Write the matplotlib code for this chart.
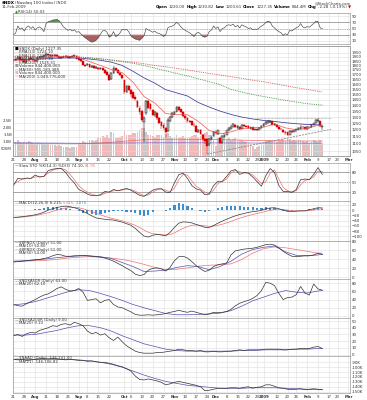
import numpy as np
import pandas as pd
import matplotlib
matplotlib.use("Agg")
import matplotlib.pyplot as plt
from matplotlib.ticker import NullLocator

# trading sessions Jul 21 2008 .. Mar 2 2009
holidays = ["2008-09-01", "2008-11-27", "2008-12-25", "2009-01-01", "2009-01-19", "2009-02-16"]
days = pd.bdate_range("2008-07-21", "2009-03-02", freq="C", holidays=holidays)

tick_dates = ["2008-07-21", "2008-07-28", "2008-08-04", "2008-08-11", "2008-08-18", "2008-08-25",
              "2008-09-02", "2008-09-08", "2008-09-15", "2008-09-22", "2008-10-01", "2008-10-06",
              "2008-10-13", "2008-10-20", "2008-10-27", "2008-11-03", "2008-11-10", "2008-11-17",
              "2008-11-24", "2008-12-01", "2008-12-08", "2008-12-15", "2008-12-22", "2008-12-29",
              "2009-01-02", "2009-01-12", "2009-01-20", "2009-01-26", "2009-02-02", "2009-02-09",
              "2009-02-17", "2009-02-23", "2009-03-02"]
tick_labels = ["21", "28", "Aug", "11", "18", "25", "Sep", "8", "15", "22", "Oct", "6", "13", "20",
               "27", "Nov", "10", "17", "24", "Dec", "8", "15", "22", "29", "2009", "12", "20", "26",
               "Feb", "9", "17", "23", "Mar"]
month_names = ["Aug", "Sep", "Oct", "Nov", "Dec", "2009", "Feb", "Mar"]

# daily OHLC, Jul 21 2008 .. Feb 11 2009
opens = [1850, 1865, 1880, 1895, 1860, 1870, 1835, 1860, 1885, 1870,
         1860, 1850, 1890, 1900, 1905, 1915, 1935, 1915, 1925, 1915,
         1925, 1905, 1885, 1895, 1905, 1915, 1890, 1900, 1905, 1915,
         1890, 1870, 1850, 1805, 1800, 1815, 1785, 1795, 1770, 1775,
         1760, 1770, 1745, 1725, 1700, 1650, 1720, 1770, 1745, 1715,
         1690, 1640, 1525, 1580, 1540, 1520, 1480, 1440, 1380, 1350,
         1260, 1330, 1440, 1410, 1360, 1320, 1335, 1290, 1260, 1240,
         1215, 1190, 1270, 1300, 1325, 1345, 1385, 1365, 1345, 1310,
         1295, 1270, 1265, 1240, 1230, 1185, 1200, 1165, 1130, 1135,
         1095, 1135, 1155, 1185, 1170, 1140, 1110, 1150, 1165, 1195,
         1210, 1225, 1240, 1215, 1225, 1210, 1240, 1230, 1230, 1210,
         1220, 1200, 1205, 1200, 1215, 1230, 1245, 1255, 1260, 1265,
         1240, 1240, 1225, 1210, 1200, 1185, 1180, 1165, 1190, 1185,
         1195, 1200, 1210, 1225, 1220, 1210, 1225, 1220, 1240, 1255,
         1265, 1265, 1220]
highs = [1875, 1890, 1910, 1900, 1880, 1875, 1865, 1890, 1895, 1880,
         1865, 1895, 1905, 1915, 1925, 1945, 1940, 1935, 1930, 1930,
         1930, 1910, 1900, 1915, 1925, 1915, 1905, 1915, 1925, 1920,
         1905, 1875, 1855, 1815, 1825, 1820, 1805, 1800, 1790, 1785,
         1780, 1775, 1755, 1735, 1705, 1730, 1790, 1775, 1755, 1725,
         1700, 1645, 1590, 1590, 1550, 1525, 1495, 1450, 1390, 1360,
         1310, 1450, 1450, 1420, 1370, 1350, 1345, 1300, 1270, 1250,
         1225, 1290, 1310, 1340, 1350, 1395, 1390, 1370, 1350, 1320,
         1300, 1280, 1270, 1255, 1235, 1205, 1205, 1170, 1140, 1140,
         1140, 1160, 1190, 1195, 1200, 1145, 1160, 1175, 1200, 1225,
         1235, 1255, 1245, 1240, 1230, 1245, 1245, 1240, 1235, 1225,
         1225, 1210, 1210, 1220, 1235, 1250, 1265, 1275, 1280, 1270,
         1250, 1245, 1230, 1215, 1205, 1190, 1185, 1195, 1200, 1200,
         1210, 1220, 1235, 1230, 1225, 1230, 1230, 1245, 1255, 1285,
         1295, 1270, 1230.82]
lows = [1840, 1855, 1875, 1855, 1850, 1830, 1830, 1855, 1865, 1855,
        1840, 1845, 1885, 1895, 1900, 1910, 1915, 1910, 1905, 1910,
        1900, 1880, 1875, 1890, 1900, 1885, 1885, 1895, 1900, 1875,
        1855, 1840, 1800, 1780, 1790, 1775, 1775, 1765, 1760, 1750,
        1745, 1735, 1710, 1690, 1630, 1640, 1710, 1740, 1705, 1680,
        1650, 1505, 1515, 1530, 1480, 1455, 1440, 1375, 1320, 1260,
        1110, 1320, 1370, 1350, 1310, 1300, 1280, 1245, 1210, 1195,
        1140, 1180, 1260, 1290, 1315, 1340, 1350, 1335, 1300, 1280,
        1255, 1250, 1230, 1225, 1180, 1175, 1160, 1120, 1100, 1030,
        1085, 1125, 1145, 1165, 1165, 1100, 1100, 1140, 1160, 1190,
        1205, 1220, 1215, 1210, 1200, 1205, 1225, 1220, 1205, 1205,
        1195, 1195, 1190, 1195, 1210, 1225, 1240, 1250, 1255, 1235,
        1230, 1220, 1200, 1195, 1175, 1165, 1155, 1160, 1175, 1180,
        1185, 1195, 1205, 1210, 1200, 1200, 1210, 1215, 1235, 1250,
        1260, 1225, 1200.61]
closes = [1865, 1880, 1900, 1860, 1870, 1835, 1860, 1880, 1870, 1865,
          1850, 1890, 1900, 1910, 1915, 1935, 1920, 1925, 1915, 1925,
          1905, 1885, 1895, 1910, 1915, 1890, 1900, 1910, 1920, 1880,
          1865, 1850, 1805, 1795, 1815, 1785, 1795, 1775, 1780, 1760,
          1770, 1745, 1720, 1700, 1640, 1720, 1775, 1750, 1715, 1690,
          1660, 1520, 1580, 1545, 1500, 1470, 1460, 1385, 1345, 1280,
          1295, 1440, 1380, 1370, 1320, 1340, 1290, 1255, 1230, 1215,
          1180, 1280, 1300, 1330, 1340, 1385, 1360, 1345, 1310, 1290,
          1265, 1260, 1240, 1235, 1185, 1195, 1170, 1130, 1120, 1085,
          1135, 1150, 1185, 1175, 1195, 1105, 1155, 1165, 1195, 1215,
          1225, 1245, 1220, 1230, 1205, 1240, 1230, 1225, 1215, 1220,
          1200, 1205, 1200, 1215, 1230, 1245, 1260, 1265, 1270, 1240,
          1245, 1225, 1210, 1205, 1180, 1175, 1160, 1190, 1185, 1195,
          1205, 1215, 1225, 1220, 1210, 1225, 1220, 1240, 1250, 1275,
          1280, 1230, 1227.35]
# volume, millions of shares
volume_m = [1050, 980, 1100, 1000, 950, 1020, 990, 1050, 980, 900,
            850, 950, 900, 920, 870, 880, 820, 800, 760, 780,
            720, 800, 700, 650, 600, 620, 580, 600, 650, 640,
            900, 950, 1050, 1000, 1000, 1100, 1150, 1050, 1100, 1300,
            1250, 1400, 1350, 1500, 1250, 1700, 1600, 1250, 1300, 1350,
            1400, 1750, 1500, 1450, 1500, 1650, 1600, 1700, 1800, 1950,
            2000, 1700, 1500, 1450, 1400, 1350, 1500, 1450, 1500, 1350,
            1550, 1600, 1400, 1300, 1250, 1450, 1300, 1350, 1400, 1250,
            1300, 1350, 1400, 1450, 1500, 1350, 1400, 1550, 1650, 1700,
            1500, 1300, 1100, 700, 1250, 1200, 1300, 1250, 1200, 1300,
            1150, 1200, 1250, 1100, 1150, 1100, 1050, 1000, 950, 850,
            700, 500, 650, 700, 750, 800, 1050, 1100, 1150, 1050,
            1100, 1000, 1150, 1100, 1200, 1050, 1250, 1200, 1050, 1100,
            1050, 1100, 1150, 1050, 1000, 1050, 950, 1000, 1100, 1050,
            1000, 1150, 844]
rsi = [30, 35, 58, 48, 52, 42, 54, 58, 50, 56,
       45, 52, 55, 50, 40, 66, 72, 74, 77, 78,
       79, 75, 66, 55, 50, 44, 47, 42, 46, 38,
       40, 33, 26, 20, 15, 10, 6, 8, 12, 20,
       32, 42, 44, 38, 22, 26, 40, 24, 28, 36,
       48, 45, 47, 40, 26, 20, 16, 14, 12, 18,
       26, 50, 45, 42, 38, 41, 36, 34, 30, 24,
       30, 52, 56, 58, 62, 70, 64, 55, 48, 44,
       40, 36, 30, 24, 34, 38, 32, 24, 22, 25,
       40, 45, 58, 50, 55, 40, 50, 52, 60, 62,
       60, 64, 55, 60, 52, 62, 58, 55, 50, 52,
       46, 48, 47, 52, 58, 62, 70, 73, 71, 58,
       52, 45, 40, 36, 28, 33, 30, 44, 42, 48,
       52, 56, 66, 55, 52, 56, 54, 60, 66, 73,
       72, 52, 50]

# every other session
sto_k = [40, 62, 60, 63, 62, 72, 66, 68, 86, 90, 92, 92, 80, 62, 48, 28, 22, 14, 9, 9,
         12, 22, 20, 28, 24, 28, 31, 26, 18, 10, 7, 16, 26, 30, 30, 20, 19, 48, 73, 78,
         62, 40, 30, 26, 12, 14, 40, 53, 53, 68, 85, 89, 74, 80, 78, 66, 52, 38, 70, 92,
         80, 40, 22, 22, 19, 28, 58, 60, 58, 74, 95, 74]
sto_d = [45, 52, 60, 61, 62, 66, 68, 68, 78, 87, 91, 92, 88, 74, 58, 40, 28, 20, 13, 10,
         10, 16, 20, 24, 25, 26, 29, 28, 23, 15, 10, 11, 20, 27, 30, 26, 21, 32, 58, 74,
         72, 54, 38, 30, 20, 14, 26, 46, 52, 60, 78, 86, 82, 78, 79, 72, 60, 46, 52, 78,
         88, 60, 34, 24, 21, 24, 42, 56, 59, 66, 84, 82]
macd = [-28, -27, -25, -23, -21, -18, -14, -8, 0, 5, 10, 13, 15, 13, 9, 4, -5, -13, -22, -30,
        -33, -35, -37, -38, -42, -46, -52, -58, -70, -85, -99, -103, -96, -93, -95, -98, -85, -66, -50, -45,
        -46, -49, -55, -60, -66, -66, -59, -50, -42, -35, -28, -22, -17, -13, -9, -6, -4, -1, 5, 8,
        9, 5, 0, -5, -6, -4, -3, -3, 1, 5, 9, 8]
macd_sig = [-28, -28, -27, -25, -23, -21, -18, -14, -10, -5, 0, 4, 8, 10, 10, 9, 5, 0, -6, -12,
            -18, -24, -29, -33, -37, -41, -46, -52, -58, -67, -76, -85, -90, -92, -94, -95, -93, -87, -78, -70,
            -63, -58, -57, -58, -60, -62, -61, -58, -54, -49, -43, -37, -31, -26, -21, -17, -13, -9, -5, -1,
            2, 3, 2, 0, -2, -3, -3, -3, -2, 0, 3, 5]
macd_hist = [0, 1, 2, 2, 2, 3, 4, 6, 10, 10, 10, 9, 7, 3, -1, -5, -10, -13, -16, -18,
             -15, -11, -8, -5, -5, -5, -6, -6, -12, -18, -23, -18, -6, -1, -1, -3, 8, 21, 28, 25,
             17, 9, 2, -2, -6, -4, 2, 8, 12, 14, 15, 15, 14, 13, 12, 11, 9, 8, 10, 9,
             7, 2, -2, -5, -4, -1, 0, 0, 3, 5, 6, 3]
bpndx = [34, 35, 36, 37, 38, 39, 40, 42, 44, 48, 51, 50, 47, 47, 48, 48, 49, 48, 47, 46,
         45, 43, 40, 36, 31, 26, 20, 15, 7, 4, 6, 16, 20, 21, 19, 14, 22, 37, 46, 47,
         43, 35, 26, 19, 13, 16, 24, 28, 30, 32, 50, 59, 61, 63, 64, 65, 67, 70, 73, 74,
         72, 66, 58, 52, 47, 46, 47, 48, 48, 50, 54, 51]
a50r = [28, 25, 24, 30, 35, 40, 46, 51, 54, 60, 67, 71, 65, 61, 62, 67, 58, 38, 40, 42,
        32, 38, 40, 28, 22, 20, 15, 10, 4, 2, 2, 3, 2, 3, 4, 6, 9, 11, 14, 11,
        9, 12, 9, 6, 3, 5, 9, 8, 9, 11, 16, 25, 31, 35, 38, 43, 50, 62, 82, 80,
        74, 55, 40, 45, 46, 52, 72, 56, 51, 78, 66, 63]
a200r = [28, 30, 27, 31, 33, 32, 36, 38, 40, 43, 42, 45, 46, 44, 48, 46, 43, 35, 31, 33,
         29, 31, 25, 21, 26, 19, 13, 9, 5, 3, 2, 2, 2, 3, 3, 4, 5, 6, 8, 7,
         6, 6, 5, 6, 4, 4, 5, 4, 4, 5, 5, 6, 7, 6, 7, 7, 7, 7, 8, 8,
         8, 8, 7, 7, 8, 8, 9, 9, 9, 11, 12, 9]
naad_k = [-84, -85, -84, -86, -85, -84, -83, -82, -83, -82, -83, -84, -85, -84, -85, -86, -86, -88, -87, -89,
          -90, -90, -92, -94, -97, -99, -103, -108, -118, -125, -126, -124, -126, -128, -131, -136, -134, -131, -129, -131,
          -133, -135, -137, -140, -148, -147, -145, -143, -143, -143, -142, -142, -143, -141, -140, -143, -141, -140, -136, -136,
          -139, -142, -143, -145, -146, -145, -144, -146, -145, -144, -145, -146]

# weekly samples (every 5th session plus the last one)
ema13 = [1860, 1862, 1865, 1890, 1905, 1905, 1890, 1845, 1800, 1755, 1720, 1620, 1480, 1420, 1330,
         1320, 1320, 1265, 1195, 1170, 1185, 1210, 1215, 1220, 1245, 1215, 1200, 1210, 1235, 1230]
ema34 = [1870, 1872, 1874, 1880, 1885, 1888, 1885, 1875, 1860, 1838, 1800, 1735, 1665, 1610, 1545,
         1515, 1485, 1425, 1385, 1350, 1322, 1300, 1285, 1273, 1265, 1255, 1247, 1241, 1238, 1236]
ema89 = [1895, 1895, 1894, 1894, 1893, 1893, 1891, 1887, 1876, 1860, 1843, 1825, 1800, 1770, 1740,
         1712, 1685, 1655, 1625, 1595, 1548, 1522, 1500, 1480, 1462, 1445, 1430, 1415, 1405, 1402]
ema200 = [1905, 1905, 1905, 1904, 1904, 1903, 1900, 1890, 1878, 1865, 1850, 1838, 1820, 1800, 1785,
          1768, 1750, 1730, 1712, 1695, 1677, 1660, 1640, 1625, 1605, 1585, 1565, 1548, 1530, 1525]
vol_ma50 = [930, 925, 920, 915, 910, 905, 900, 900, 905, 910, 915, 920, 925, 930, 930,
            930, 930, 928, 925, 922, 920, 918, 915, 912, 910, 910, 908, 905, 905, 905]
vol_ma200 = [900, 895, 890, 880, 870, 860, 860, 880, 920, 970, 1030, 1090, 1140, 1170, 1180,
             1180, 1175, 1170, 1160, 1150, 1140, 1120, 1100, 1080, 1070, 1060, 1060, 1060, 1055, 1050]
bpndx_ma10 = [36, 37, 39, 41, 44, 46, 48, 48, 46, 42, 33, 24, 13, 14, 16,
              22, 26, 24, 17, 24, 36, 52, 62, 67, 70, 57, 49, 48, 50, 51]
bpndx_ma50 = [35, 36, 37, 38, 40, 43, 45, 46, 45, 43, 40, 35, 29, 22, 17,
              18, 21, 25, 27, 28, 30, 40, 54, 64, 68, 66, 62, 58, 54, 54]
a50r_ma = [27, 30, 35, 43, 51, 59, 64, 62, 55, 47, 38, 28, 20, 13, 6,
           3, 3, 4, 5, 7, 13, 24, 37, 46, 55, 62, 58, 56, 61, 62]
a200r_ma = [29, 29, 30, 33, 36, 40, 43, 43, 40, 35, 28, 22, 16, 12, 8,
            6, 5, 5, 5, 5, 5, 6, 6, 7, 7, 7, 8, 8, 9, 9]
naad_ma = [-84, -84, -84, -84, -84, -84, -85, -87, -90, -94, -100, -108, -116, -123, -129,
           -133, -137, -139, -141, -143, -143, -143, -142, -142, -142, -143, -144, -145, -146, -146]

# trend lines drawn on the price panel
support_dates = ["2008-11-24", "2009-02-18"]
support_prices = [1030, 1204]
resist_dates = ["2008-12-26", "2009-02-18"]
resist_prices = [1295, 1295]

# ---------------------------------------------------------------
W, H = 367, 400
L, R = 13, 350
X0, X1 = -0.2, 154.7

n = len(closes)
xd = np.arange(n)
x2 = np.arange(0, n, 2)
xw = np.array(list(range(0, n - 2, 5)) + [n - 1])
tick_x = [days.get_loc(pd.Timestamp(d)) for d in tick_dates]

o = np.array(opens, float)
c = np.array(closes, float)
hi = np.array(highs, float)
lo = np.array(lows, float)
up = c >= o

fig = plt.figure(figsize=(W / 100, H / 100), dpi=100)
fig.patch.set_facecolor("white")
renderer = fig.canvas.get_renderer()
GRID = "#dedede"
TXT = "#333333"
FS = 2.8


def put(x, y, pieces, size=FS, gap=0.8, align="left"):
    # draw coloured text pieces one after the other, pixel coords
    texts, widths = [], []
    for s, col, wt in pieces:
        t = fig.text(0, 1 - y / H, s, color=col, fontsize=size, fontweight=wt,
                     ha="left", va="center")
        texts.append(t)
        widths.append(t.get_window_extent(renderer).width)
    if align == "right":
        x -= sum(widths) + gap * (len(widths) - 1)
    for t, w in zip(texts, widths):
        t.set_x(x / W)
        x += w + gap
    return x


def panel(top, bottom):
    ax = fig.add_axes([L / W, 1 - bottom / H, (R - L) / W, (bottom - top) / H])
    ax.set_xlim(X0, X1)
    ax.set_xticks(tick_x)
    ax.tick_params(axis="x", length=0, labelbottom=False)
    ax.tick_params(axis="y", length=0, pad=1.2, labelsize=FS, labelcolor=TXT,
                   left=False, labelleft=False, right=False, labelright=True)
    ax.grid(True, color=GRID, lw=0.4)
    ax.set_axisbelow(True)
    for s in ax.spines.values():
        s.set_color("#9a9a9a")
        s.set_linewidth(0.5)
    return ax


def date_labels(ax):
    ax.tick_params(axis="x", labelbottom=True, labelsize=FS, labelcolor=TXT, pad=1.6)
    ax.set_xticklabels(tick_labels)
    for t in ax.get_xticklabels():
        if t.get_text() in month_names:
            t.set_fontweight("bold")


# ---- header ----
put(1.5, 3.2, [("$NDX", "black", "bold"), ("(Nasdaq 100 Index) INDX", TXT, "normal")], size=3.0)
put(1.5, 7.4, [("11-Feb-2009", TXT, "normal")], size=2.8)
put(351, 3.0, [("@StockCharts.com", TXT, "normal")], size=2.7, align="right")
put(351, 7.4, [("Open", "black", "bold"), ("1220.00", TXT, "normal"),
               ("High", "black", "bold"), ("1230.82", TXT, "normal"),
               ("Low", "black", "bold"), ("1200.61", TXT, "normal"),
               ("Close", "black", "bold"), ("1227.35", TXT, "normal"),
               ("Volume", "black", "bold"), ("844.4M", TXT, "normal"),
               ("Chg", "black", "bold"), ("-2.28 (-0.19%)", TXT, "normal"),
               ("\u25bc", "#cc0000", "normal")], size=2.9, gap=1.2, align="right")

# ---- RSI ----
ax = panel(13, 44)
ax.set_ylim(0, 100)
ax.set_yticks([10, 30, 50, 70, 90])
r = np.array(rsi, float)
ax.axhline(70, color="#8a8a8a", lw=0.5)
ax.axhline(30, color="#8a8a8a", lw=0.5)
ax.axhline(50, color="#8a8a8a", lw=0.4, ls=(0, (2, 2)))
ax.fill_between(xd, r, 70, where=r >= 70, interpolate=True, color="#4f9a4f", lw=0)
ax.fill_between(xd, r, 30, where=r <= 30, interpolate=True, color="#a86060", lw=0)
ax.plot(xd, r, color="#444444", lw=0.45)
put(15, 12.3, [("\u25b2", "#2a8a2a", "normal"), ("RSI(14) 50.03", TXT, "normal")], gap=0.3)

# ---- price + volume ----
ax_v = panel(46, 156)
ax_v.set_ylim(0, 7750)
ax_v.grid(axis="y", visible=False)
ax_v.tick_params(axis="y", left=False, labelleft=True, right=False, labelright=False, pad=0.8)
ax_v.set_yticks([500, 1000, 1500, 2000, 2500])
ax_v.set_yticklabels(["500M", "1.0B", "1.5B", "2.0B", "2.5B"])
ax_v.bar(xd[up], np.array(volume_m)[up], width=0.8, color="#c9c9c9", lw=0)
ax_v.bar(xd[~up], np.array(volume_m)[~up], width=0.8, color="#f2b9b9", lw=0)
ax_v.plot(xw, vol_ma200, color="#ee6666", lw=0.5)
ax_v.plot(xw, vol_ma50, color="#7a62c8", lw=0.5)

ax_p = panel(46, 156)
ax_p.patch.set_visible(False)
ax_p.set_yscale("log")
ax_p.set_ylim(1017.5, 2035)
ax_p.grid(axis="x", visible=False)
pt = list(range(1050, 2000, 50))
ax_p.set_yticks(pt)
ax_p.set_yticklabels([str(v) for v in pt])
ax_p.yaxis.set_minor_locator(NullLocator())
ax_p.plot(xw, ema200, color="#d04040", lw=0.6, ls=(0, (1, 1.2)))
ax_p.plot(xw, ema89, color="#2e8b2e", lw=0.6, ls=(0, (1, 1.2)))
ax_p.plot(xw, ema34, color="#3a3a9a", lw=0.55)
ax_p.plot(xw, ema13, color="#f06060", lw=0.55)
ax_p.vlines(xd[up], lo[up], hi[up], color="black", lw=0.35)
ax_p.vlines(xd[~up], lo[~up], hi[~up], color="#dd0000", lw=0.35)
ax_p.bar(xd[up], (c - o)[up], bottom=o[up], width=0.8, facecolor="white", edgecolor="black", lw=0.3)
ax_p.bar(xd[~up], (o - c)[~up], bottom=c[~up], width=0.8, facecolor="#dd0000", edgecolor="#dd0000", lw=0.3)
sx = [days.get_loc(pd.Timestamp(d)) for d in support_dates]
rx = [days.get_loc(pd.Timestamp(d)) for d in resist_dates]
ax_p.plot(sx, support_prices, color="#777777", lw=0.5, ls=(0, (3, 1.5)))
ax_p.plot(rx, resist_prices, color="#888888", lw=0.5, ls=(0, (1, 1)))
date_labels(ax_p)

leg = [("\u25a0", "black", "$NDX (Daily) 1227.35"),
       ("\u2014", "#f06060", "EMA(13) 1224.10"),
       ("\u2014", "#3a3a9a", "EMA(34) 1236.52"),
       ("\u2014", "#2e8b2e", "EMA(89) 1402.18"),
       ("\u2014", "#d04040", "EMA(200) 1525.31"),
       ("\u25a0", "#999999", "Volume 844,400,000"),
       ("\u2014", "#7a62c8", "MA(50) 905,183,488"),
       ("\u25a0", "#f2b9b9", "Volume 844,400,000"),
       ("\u2014", "#ee6666", "MA(200) 1,049,776,000")]
for i, (sym, col, s) in enumerate(leg):
    put(15, 48.6 + i * 3.5, [(sym, col, "normal"), (s, TXT, "normal")], gap=0.4)

# ---- Slow stochastics ----
ax = panel(163, 201)
ax.set_ylim(-7.2, 109)
ax.set_yticks([20, 50, 80])
ax.axhline(80, color="#8a8a8a", lw=0.5)
ax.axhline(20, color="#8a8a8a", lw=0.5)
ax.axhline(50, color="#8a8a8a", lw=0.4, ls=(0, (2, 2)))
ax.plot(x2, sto_d, color="#f07070", lw=0.5)
ax.plot(x2, sto_k, color="#333333", lw=0.5)
put(15, 165.5, [("\u2014", "#333333", "normal"), ("Slow STO %K(14,3) %D(3) 74.10,", TXT, "normal"),
                ("81.95", "#f07070", "normal")], gap=0.5)

# ---- MACD ----
ax = panel(201, 241)
ax.set_ylim(-118, 34.6)
ax.set_yticks([20, 0, -20, -40, -60, -80, -100])
ax.bar(x2, macd_hist, width=1.0, color="#3b8ed0", lw=0)
ax.plot(x2, macd_sig, color="#f07070", lw=0.5)
ax.plot(x2, macd, color="#333333", lw=0.5)
put(15, 203.5, [("\u2014", "#333333", "normal"), ("MACD(12,26,9) 8.215,", TXT, "normal"),
                ("5.345,", "#f07070", "normal"), ("2.870", "#3b8ed0", "normal")], gap=0.5)

# ---- Bullish percent ----
ax = panel(241, 279)
ax.set_ylim(-3.8, 81.1)
ax.set_yticks([0, 20, 40, 60, 80])
ax.plot(xw, bpndx_ma50, color="#f07070", lw=0.5)
ax.plot(xw, bpndx_ma10, color="#5050b0", lw=0.5)
ax.plot(x2, bpndx, color="#333333", lw=0.5)
for i, (col, s) in enumerate([("#333333", "$BPNDX (Daily) 51.00"), ("#5050b0", "MA(10) 50.80"),
                              ("#888888", "$BPNDX (Daily) 51.00"), ("#f07070", "MA(50) 54.00")]):
    put(15, 242.8 + i * 3.4, [("\u2014", col, "normal"), (s, TXT, "normal")], gap=0.4)

# ---- % above 50-day ----
ax = panel(279, 318)
ax.set_ylim(-4.9, 90.2)
ax.set_yticks([0, 20, 40, 60, 80])
ax.plot(xw, a50r_ma, color="#5050b0", lw=0.5)
ax.plot(x2, a50r, color="#333333", lw=0.5)
for i, (col, s) in enumerate([("#333333", "$NDXA50R (Daily) 63.00"), ("#5050b0", "MA(20) 62.10")]):
    put(15, 281 + i * 3.4, [("\u2014", col, "normal"), (s, TXT, "normal")], gap=0.4)

# ---- % above 200-day ----
ax = panel(318, 356)
ax.set_ylim(-2.2, 54.5)
ax.set_yticks([0, 10, 20, 30, 40, 50])
ax.plot(xw, a200r_ma, color="#5050b0", lw=0.5)
ax.plot(x2, a200r, color="#333333", lw=0.5)
for i, (col, s) in enumerate([("#333333", "$NDXA200R (Daily) 9.00"), ("#5050b0", "MA(20) 9.10")]):
    put(15, 320 + i * 3.4, [("\u2014", col, "normal"), (s, TXT, "normal")], gap=0.4)

# ---- advance / decline ----
ax = panel(356, 393)
ax.set_ylim(-152.7, -77.1)
adt = [-90, -100, -110, -120, -130, -140, -150]
ax.set_yticks(adt)
ax.set_yticklabels([f"{v}K" for v in adt])
ax.plot(xw, naad_ma, color="#5050b0", lw=0.5)
ax.plot(x2, naad_k, color="#333333", lw=0.5)
for i, (col, s) in enumerate([("#333333", "$NAAD (Daily) -146,241.00"), ("#5050b0", "MA(21) -146,106.82")]):
    put(15, 358.5 + i * 3.4, [("\u2014", col, "normal"), (s, TXT, "normal")], gap=0.4)
date_labels(ax)

fig.savefig("out.png", dpi=100, facecolor="white")
